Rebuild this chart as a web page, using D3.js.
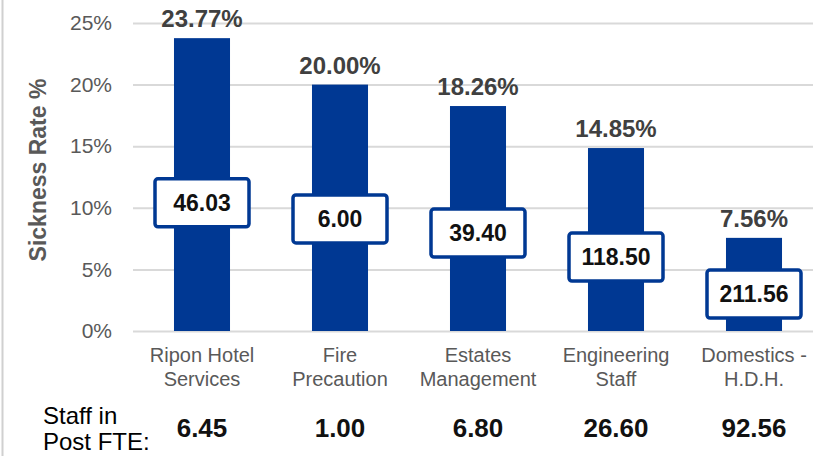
<!DOCTYPE html>
<html>
<head>
<meta charset="utf-8">
<script src="https://cdn.jsdelivr.net/npm/d3@7"></script>
<style>
  html, body { margin: 0; padding: 0; background: #fff; }
  svg { display: block; font-family: "Liberation Sans", Arial, sans-serif; }
</style>
</head>
<body>
<svg id="chart" width="813" height="456"></svg>
<script>
// Sickness rate by staff group
const categories = [
  ["Ripon Hotel", "Services"],
  ["Fire", "Precaution"],
  ["Estates", "Management"],
  ["Engineering", "Staff"],
  ["Domestics -", "H.D.H."]
];
const sicknessRate = [23.77, 20.00, 18.26, 14.85, 7.56];
const boxValues = ["46.03", "6.00", "39.40", "118.50", "211.56"];
const boxAnchor = [10.4, 9.1, 7.95, 6.0, 3.0];   // % level where each value box sits
const staffFTE = ["6.45", "1.00", "6.80", "26.60", "92.56"];
const yTicks = [0, 5, 10, 15, 20, 25];

const W = 813, H = 456;
const svg = d3.select("#chart");
const keys = categories.map(c => c.join(" "));

const x = d3.scaleBand()
  .domain(keys)
  .range([133, 823])
  .paddingInner(0.594)
  .paddingOuter(0.297);

const y = d3.scaleLinear().domain([0, 25]).range([331, 23]);

const BLUE = "#003893";

// left frame line
svg.append("line")
  .attr("x1", 2.5).attr("x2", 2.5).attr("y1", 0).attr("y2", H)
  .attr("stroke", "#d0d0d0").attr("stroke-width", 2);

// y axis with gridlines
const yAxis = svg.append("g")
  .attr("transform", "translate(133,0)")
  .call(d3.axisLeft(y).tickValues(yTicks).tickFormat(d => d + "%").tickSize(-(W - 133)).tickPadding(21));
yAxis.select(".domain").remove();
yAxis.selectAll(".tick line").attr("stroke", "#d9d9d9").attr("stroke-width", 2);
yAxis.selectAll(".tick text")
  .attr("fill", "#595959")
  .style("font-size", "21px")
  .style("font-family", "'Liberation Sans', Arial, sans-serif");

// y axis title
svg.append("text")
  .attr("transform", "translate(46,170) rotate(-90)")
  .attr("text-anchor", "middle")
  .attr("fill", "#595959")
  .style("font-size", "23px")
  .style("font-weight", "bold")
  .text("Sickness Rate %");

// bars
svg.append("g").selectAll("rect")
  .data(sicknessRate)
  .join("rect")
  .attr("x", (d, i) => x(keys[i]))
  .attr("width", x.bandwidth())
  .attr("y", d => y(d))
  .attr("height", d => y(0) - y(d))
  .attr("fill", BLUE);

// rate labels above bars
svg.append("g").selectAll("text")
  .data(sicknessRate)
  .join("text")
  .attr("x", (d, i) => x(keys[i]) + x.bandwidth() / 2)
  .attr("y", d => y(d) - 11)
  .attr("text-anchor", "middle")
  .attr("fill", "#404040")
  .style("font-size", "24px")
  .style("font-weight", "bold")
  .text(d => d.toFixed(2) + "%");

// value boxes
const boxW = 94, boxH = 48;
const boxes = svg.append("g").selectAll("g")
  .data(boxValues)
  .join("g")
  .attr("transform", (d, i) => `translate(${x(keys[i]) + x.bandwidth() / 2},${y(boxAnchor[i])})`);
boxes.append("rect")
  .attr("x", -boxW / 2).attr("y", -boxH / 2)
  .attr("width", boxW).attr("height", boxH)
  .attr("rx", 3)
  .attr("fill", "#fff")
  .attr("stroke", BLUE)
  .attr("stroke-width", 3.5);
boxes.append("text")
  .attr("text-anchor", "middle")
  .attr("dy", "0.36em")
  .attr("fill", "#111")
  .style("font-size", "23px")
  .style("font-weight", "bold")
  .text(d => d);

// category labels
const xAxis = svg.append("g")
  .attr("transform", "translate(0,331)")
  .call(d3.axisBottom(x).tickSize(0).tickFormat(""));
xAxis.select(".domain").remove();
xAxis.selectAll(".tick").each(function(d, i) {
  const t = d3.select(this).append("text")
    .attr("text-anchor", "middle")
    .attr("fill", "#595959")
    .style("font-size", "20px");
  categories[i].forEach((line, j) => {
    t.append("tspan").attr("x", 0).attr("y", 31 + j * 24).text(line);
  });
});

// staff in post row
const staffLabel = svg.append("text")
  .attr("fill", "#000")
  .style("font-size", "24px");
staffLabel.append("tspan").attr("x", 43).attr("y", 424).text("Staff in");
staffLabel.append("tspan").attr("x", 43).attr("y", 450).text("Post FTE:");

svg.append("g").selectAll("text")
  .data(staffFTE)
  .join("text")
  .attr("x", (d, i) => x(keys[i]) + x.bandwidth() / 2)
  .attr("y", 437)
  .attr("text-anchor", "middle")
  .attr("fill", "#111")
  .style("font-size", "26px")
  .style("font-weight", "bold")
  .text(d => d);
</script>
</body>
</html>
